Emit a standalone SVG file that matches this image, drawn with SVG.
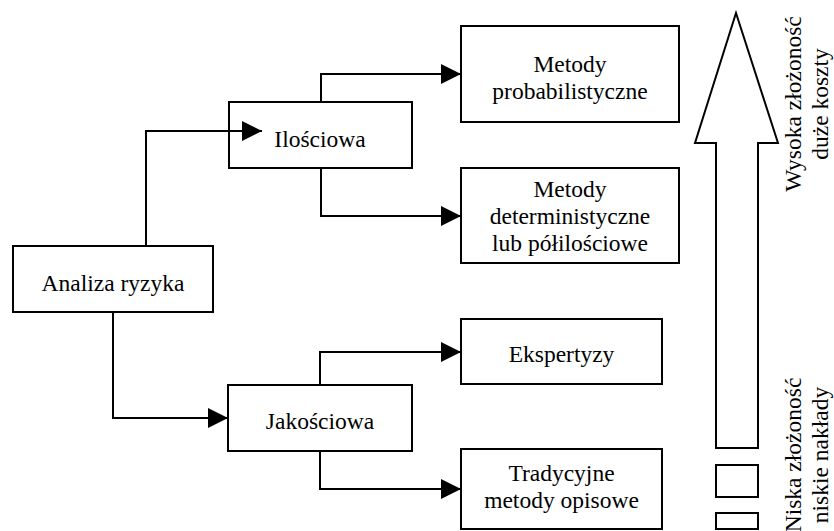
<svg xmlns="http://www.w3.org/2000/svg" width="834" height="531" viewBox="0 0 834 531">
  <style>
    .box { fill: #fff; stroke: #000; stroke-width: 2; }
    .lbl { font-family: "Liberation Serif", "Times New Roman", serif; font-size: 23.5px; fill: #000; text-anchor: middle; }
    .conn { fill: none; stroke: #000; stroke-width: 2; marker-end: url(#ah); }
  </style>
  <defs>
    <marker id="ah" markerUnits="userSpaceOnUse" markerWidth="21" markerHeight="21" refX="20" refY="10" orient="auto" viewBox="0 0 21 21">
      <path d="M0,0 L20,10 L0,20 Z" fill="#000"/>
    </marker>
  </defs>
  <rect width="834" height="531" fill="#fff"/>

  <g id="analiza">
    <rect class="box" x="13" y="246" width="200" height="66"/>
    <text class="lbl" x="113" y="291">Analiza ryzyka</text>
  </g>
  <g id="ilosciowa">
    <rect class="box" x="229" y="102" width="183" height="66"/>
    <text class="lbl" x="320" y="147">Ilościowa</text>
  </g>
  <g id="jakosciowa">
    <rect class="box" x="228" y="385" width="184" height="66"/>
    <text class="lbl" x="320" y="429">Jakościowa</text>
  </g>
  <g id="probabilistyczne">
    <rect class="box" x="461" y="26" width="218" height="96"/>
    <text class="lbl" x="570" y="72">Metody</text>
    <text class="lbl" x="570" y="99">probabilistyczne</text>
  </g>
  <g id="deterministyczne">
    <rect class="box" x="461" y="168" width="218" height="95"/>
    <text class="lbl" x="570" y="197">Metody</text>
    <text class="lbl" x="570" y="224">deterministyczne</text>
    <text class="lbl" x="570" y="251">lub półilościowe</text>
  </g>
  <g id="ekspertyzy">
    <rect class="box" x="461" y="319" width="201" height="65"/>
    <text class="lbl" x="561.5" y="362">Ekspertyzy</text>
  </g>
  <g id="tradycyjne">
    <rect class="box" x="461" y="449" width="201" height="80"/>
    <text class="lbl" x="561.5" y="481">Tradycyjne</text>
    <text class="lbl" x="561.5" y="508">metody opisowe</text>
  </g>

  <g id="connectors">
    <path class="conn" d="M146,246 V131 H262"/>
    <path class="conn" d="M113,312 V418 H228"/>
    <path class="conn" d="M321,102 V74 H461"/>
    <path class="conn" d="M321,168 V216 H461"/>
    <path class="conn" d="M320,385 V352 H461"/>
    <path class="conn" d="M320,451 V489 H461"/>
  </g>

  <g id="scale-arrow">
    <path class="box" d="M736,13 L778,143 L758,143 L758,448 L716,448 L716,143 L695,143 Z"/>
    <rect class="box" x="716" y="465" width="42" height="32"/>
    <rect class="box" x="716" y="513" width="42" height="16"/>
  </g>
  <g id="scale-high">
    <text class="lbl" transform="translate(801,104) rotate(-90)">Wysoka złożoność</text>
    <text class="lbl" transform="translate(828,104) rotate(-90)">duże koszty</text>
  </g>
  <g id="scale-low">
    <text class="lbl" transform="translate(801,455) rotate(-90)">Niska złożoność</text>
    <text class="lbl" transform="translate(828,455) rotate(-90)">niskie nakłady</text>
  </g>
</svg>
